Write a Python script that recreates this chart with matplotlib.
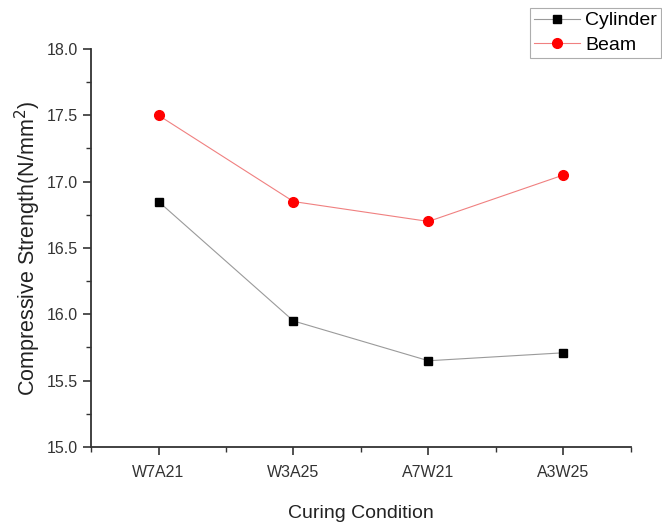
import matplotlib
matplotlib.use("Agg")
import matplotlib.pyplot as plt
from matplotlib.ticker import MultipleLocator, FixedLocator, FormatStrFormatter

plt.rcParams["font.family"] = ["Liberation Sans", "DejaVu Sans"]

conditions = ["W7A21", "W3A25", "A7W21", "A3W25"]
cylinder = [16.85, 15.95, 15.65, 15.71]
beam = [17.50, 16.85, 16.70, 17.05]

fig = plt.figure(figsize=(6.62, 5.25), dpi=100)
ax = fig.add_axes([0.1375, 0.1486, 0.8155, 0.7581])

x = list(range(1, len(conditions) + 1))
ax.plot(x, cylinder, color="#9a9a9a", lw=0.8, marker="s", ms=5.5,
        mfc="black", mec="black", label="Cylinder")
ax.plot(x, beam, color="#f08080", lw=0.8, marker="o", ms=7,
        mfc="red", mec="red", label="Beam")

ax.set_xlim(0.5, len(conditions) + 0.5)
ax.set_ylim(15.0, 18.0)
ax.set_xticks(x)
ax.set_xticklabels(conditions)
ax.xaxis.set_minor_locator(FixedLocator([0.5, 1.5, 2.5, 3.5, 4.5]))
ax.yaxis.set_major_locator(MultipleLocator(0.5))
ax.yaxis.set_minor_locator(MultipleLocator(0.25))
ax.yaxis.set_major_formatter(FormatStrFormatter("%.1f"))

for s in ("top", "right"):
    ax.spines[s].set_visible(False)
for s in ("left", "bottom"):
    ax.spines[s].set_linewidth(1.3)
    ax.spines[s].set_color("#333333")

ax.tick_params(which="major", direction="out", length=6, width=1.2,
               colors="#333333", labelsize=11.5, labelcolor="#333333")
ax.tick_params(axis="x", which="major", pad=7)
ax.tick_params(which="minor", direction="out", length=3.5, width=1.0,
               colors="#333333")

ax.set_xlabel("Curing Condition", fontsize=14, color="#222222", labelpad=18)
ax.set_ylabel("Compressive Strength(N/mm$^2$)", fontsize=15.5,
              color="#222222", labelpad=2.5)

leg = ax.legend(loc="upper right", bbox_to_anchor=(0.9985, 0.985),
                bbox_transform=fig.transFigure, fontsize=14, frameon=True,
                fancybox=False, borderpad=0.2, borderaxespad=0,
                handlelength=2.4, handletextpad=0.25, labelspacing=0.35)
leg.get_frame().set_edgecolor("#999999")
leg.get_frame().set_linewidth(0.8)

fig.savefig("out.png", dpi=100)
